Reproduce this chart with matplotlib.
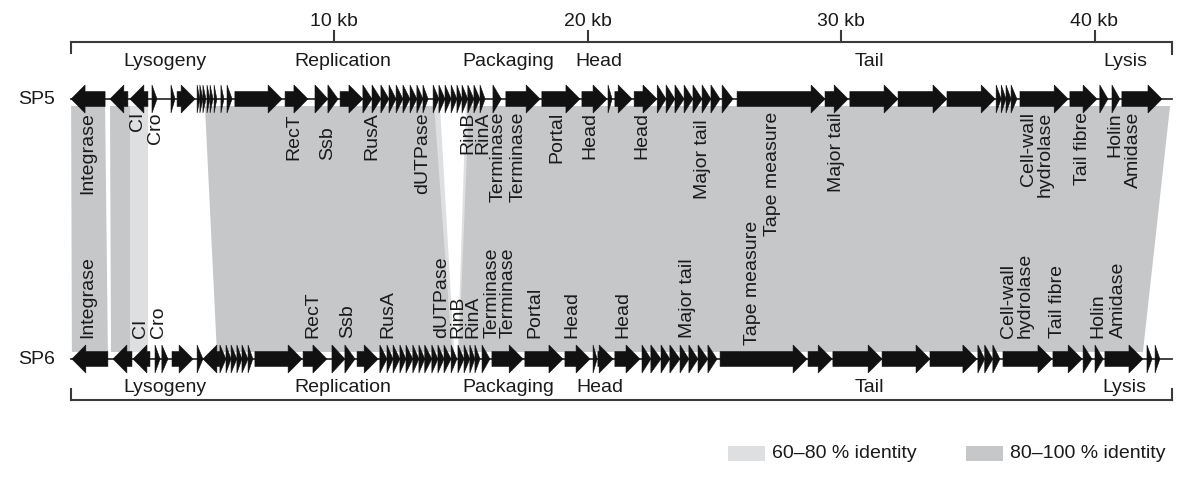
import matplotlib
matplotlib.use("Agg")
import matplotlib.pyplot as plt
from matplotlib.patches import Polygon

plt.rcParams['font.family'] = ['Liberation Sans', 'DejaVu Sans']

# ---------------- data (positions in kb) ----------------
sp5_genes = [
    (-0.37, 0.97, -1), (1.16, 1.87, -1), (1.95, 2.66, -1),
    (2.82, 3.02, 1), (3.57, 3.73, 1), (3.81, 4.52, 1),
    (4.60, 4.71, 1), (4.71, 4.83, 1), (4.83, 4.95, 1), (4.99, 5.11, 1),
    (5.11, 5.23, 1), (5.27, 5.38, 1), (5.54, 5.66, 1), (5.78, 5.98, 1),
    (6.09, 7.95, 1), (8.07, 8.97, 1),
    (9.25, 9.76, 1), (9.76, 10.16, 1), (10.24, 11.14, 1),
    (11.14, 11.50, 1), (11.50, 11.85, 1), (11.85, 12.17, 1), (12.17, 12.45, 1),
    (12.45, 12.72, 1), (12.72, 13.00, 1), (13.00, 13.27, 1), (13.27, 13.51, 1),
    (13.51, 13.71, 1),
    (13.91, 14.14, 1), (14.14, 14.38, 1), (14.38, 14.62, 1), (14.62, 14.85, 1),
    (14.85, 15.05, 1), (15.05, 15.28, 1), (15.28, 15.52, 1), (15.52, 15.76, 1),
    (15.76, 15.96, 1),
    (16.27, 16.60, 1), (16.78, 18.13, 1), (18.20, 19.70, 1), (19.78, 20.77, 1),
    (20.81, 20.97, 1), (21.08, 21.76, 1), (21.84, 22.74, 1),
    (22.75, 23.10, 1), (23.10, 23.45, 1), (23.45, 23.81, 1), (23.81, 24.16, 1),
    (24.16, 24.52, 1), (24.52, 24.87, 1), (24.87, 25.23, 1), (25.31, 25.74, 1),
    (25.90, 29.37, 1), (29.37, 30.28, 1), (30.35, 32.25, 1), (32.25, 34.18, 1),
    (34.18, 36.08, 1),
    (36.12, 36.32, 1), (36.32, 36.51, 1), (36.51, 36.71, 1), (36.71, 36.94, 1),
    (37.06, 38.96, 1), (39.03, 40.10, 1), (40.21, 40.53, 1), (40.69, 41.00, 1),
    (41.08, 42.66, 1),
]

sp6_genes = [
    (-0.34, 1.08, -1), (1.28, 2.03, -1), (2.07, 2.74, -1),
    (2.94, 3.14, 1), (3.21, 3.45, 1), (3.61, 4.44, 1), (4.60, 4.83, 1),
    (4.83, 5.50, -1),
    (5.50, 5.74, 1), (5.74, 5.94, 1), (5.94, 6.17, 1), (6.17, 6.37, 1),
    (6.37, 6.61, 1), (6.61, 6.80, 1),
    (6.88, 8.74, 1), (8.78, 9.72, 1),
    (9.92, 10.43, 1), (10.43, 10.83, 1), (10.91, 11.74, 1),
    (11.81, 12.09, 1), (12.09, 12.33, 1), (12.33, 12.60, 1), (12.60, 12.84, 1),
    (12.84, 13.11, 1), (13.11, 13.35, 1), (13.35, 13.58, 1), (13.58, 13.86, 1),
    (13.86, 14.10, 1), (14.10, 14.34, 1), (14.34, 14.62, 1), (14.62, 14.85, 1),
    (14.89, 15.13, 1), (15.13, 15.36, 1), (15.36, 15.56, 1), (15.56, 15.76, 1),
    (15.84, 16.15, 1), (16.23, 17.46, 1), (17.53, 19.03, 1), (19.11, 20.10, 1),
    (20.22, 20.38, 1), (20.41, 21.01, 1), (21.08, 22.07, 1),
    (22.15, 22.50, 1), (22.50, 22.90, 1), (22.90, 23.25, 1), (23.25, 23.65, 1),
    (23.65, 24.00, 1), (24.00, 24.36, 1), (24.36, 24.75, 1), (24.75, 25.11, 1),
    (25.23, 28.66, 1), (28.70, 29.65, 1), (29.68, 31.62, 1), (31.62, 33.51, 1),
    (33.51, 35.36, 1),
    (35.40, 35.67, 1), (35.67, 35.99, 1), (35.99, 36.27, 1),
    (36.39, 38.32, 1), (38.36, 39.51, 1), (39.55, 39.90, 1), (40.02, 40.34, 1),
    (40.41, 41.91, 1), (42.07, 42.27, 1), (42.39, 42.58, 1),
]

genome_start = -0.37
genome_end = 43.06

# identity blocks: (sp5_start, sp5_end, sp6_start, sp6_end, class)
blocks = [
    (-0.37, 0.97, -0.34, 1.08, "high"),
    (1.16, 1.95, 1.20, 1.95, "high"),
    (1.95, 2.66, 1.95, 2.66, "mid"),
    (4.91, 42.98, 5.38, 41.91, "high"),
    (13.95, 15.32, 14.66, 14.93, "mid"),
    (14.18, 15.20, 14.74, 14.88, "none"),
]

sp5_labels = ["Integrase", "CI", "Cro", "RecT", "Ssb", "RusA", "dUTPase", "RinB", "RinA",
              "Terminase", "Terminase", "Portal", "Head", "Head", "Major tail",
              "Tape measure", "Major tail", "Cell-wall\nhydrolase", "Tail fibre",
              "Holin", "Amidase"]
sp5_label_x = [0.30, 2.23, 2.94, 8.42, 9.76, 11.50, 13.51, 15.29, 15.88, 16.47, 17.26,
               18.80, 20.10, 22.15, 24.55, 27.28, 29.84, 37.73, 39.51, 40.81, 41.52]

sp6_labels = ["Integrase", "CI", "Cro", "RecT", "Ssb", "RusA", "dUTPase", "RinB", "RinA",
              "Terminase", "Terminase", "Portal", "Head", "Head", "Major tail",
              "Tape measure", "Cell-wall\nhydrolase", "Tail fibre", "Holin", "Amidase"]
sp6_label_x = [0.30, 2.35, 3.06, 9.17, 10.55, 12.13, 14.26, 14.89, 15.48, 16.23, 16.86,
               17.93, 19.39, 21.40, 23.93, 26.49, 36.94, 38.56, 40.14, 40.93]

region_names = ["Lysogeny", "Replication", "Packaging", "Head", "Tail", "Lysis"]
region_x_top = [3.33, 10.35, 16.86, 20.45, 31.10, 41.21]
region_x_bot = [3.33, 10.35, 16.86, 20.49, 31.10, 41.17]

kb_ticks = [10, 20, 30, 40]
legend_labels = ["60\u201380 % identity", "80\u2013100 % identity"]

# ---------------- styling ----------------
DARK = "#c6c7c9"
LIGHT = "#dedfe1"
TXT = "#1a1a1a"
FS = 14
Y5, Y6 = 99, 359
BH, HH, HL = 7.5, 14.0, 0.55

fig = plt.figure(figsize=(11.89, 4.87), dpi=100)
ax = fig.add_axes([0, 0, 1, 1])
ax.set_xlim(-80.5 / 25.35, (1189 - 80.5) / 25.35)
ax.set_ylim(487, 0)
ax.axis("off")

colors = {"high": DARK, "mid": LIGHT, "none": "white"}
for s5, e5, s6, e6, cls in blocks:
    ax.add_patch(Polygon([(s5, 106), (e5, 106), (e6, 352), (s6, 352)],
                         closed=True, facecolor=colors[cls], edgecolor="none", zorder=1))


def draw_gene(s, e, strand, y):
    L = e - s
    if strand < 0:
        s, e = e, s
    d = 1 if strand > 0 else -1
    if L <= HL * 1.05:
        pts = [(s, y - HH), (e, y), (s, y + HH)]
    else:
        b = e - d * HL
        pts = [(s, y - BH), (b, y - BH), (b, y - HH), (e, y), (b, y + HH), (b, y + BH), (s, y + BH)]
    ax.add_patch(Polygon(pts, closed=True, facecolor="#111111", edgecolor="#111111",
                         linewidth=0.4, zorder=4))


for y, genes in ((Y5, sp5_genes), (Y6, sp6_genes)):
    ax.plot([genome_start, genome_end], [y, y], color="#333333", lw=1.3, zorder=3)
    for s, e, st in genes:
        draw_gene(s, e, st, y)

for name, x in zip(sp5_labels, sp5_label_x):
    if name in ("RecT", "Ssb", "RusA"):
        ax.text(x, 160, name, rotation=90, ha="center", va="bottom", fontsize=FS, color=TXT, zorder=5)
        continue
    yt = 119 if name == "Major tail" and x < 26 else 112
    ax.text(x, yt, name, rotation=90, ha="center", va="top", fontsize=FS, color=TXT,
            multialignment="right", linespacing=0.95, zorder=5)
for name, x in zip(sp6_labels, sp6_label_x):
    yb = 345 if name == "Tape measure" else 338
    ax.text(x, yb, name, rotation=90, ha="center", va="bottom", fontsize=FS, color=TXT,
            multialignment="left", linespacing=0.95, zorder=5)

ax.text((37 - 80.5) / 25.35, Y5, "SP5", ha="center", va="center", fontsize=FS, color=TXT)
ax.text((37 - 80.5) / 25.35, Y6, "SP6", ha="center", va="center", fontsize=FS, color=TXT)

# brackets and scale
lc = "#3a3a3a"
ax.plot([genome_start, genome_end], [42, 42], color=lc, lw=1.5, zorder=3)
ax.plot([genome_start, genome_start], [42, 53], color=lc, lw=1.5)
ax.plot([genome_end, genome_end], [42, 54], color=lc, lw=1.5)
for t in kb_ticks:
    ax.plot([t, t], [42, 31], color=lc, lw=1.5)
    ax.text(t, 22, f"{t} kb", ha="center", va="center", fontsize=FS, color=TXT)
ax.plot([genome_start, genome_end], [400, 400], color=lc, lw=1.5)
ax.plot([genome_start, genome_start], [400, 389], color=lc, lw=1.5)
ax.plot([genome_end, genome_end], [400, 389], color=lc, lw=1.5)

for name, x in zip(region_names, region_x_top):
    ax.text(x, 62, name, ha="center", va="center", fontsize=FS, color=TXT)
for name, x in zip(region_names, region_x_bot):
    ax.text(x, 387, name, ha="center", va="center", fontsize=FS, color=TXT)

# legend
for (bx0, bx1), col, lab in zip([(728, 765), (966, 1003)], [LIGHT, DARK], legend_labels):
    x0 = (bx0 - 80.5) / 25.35
    x1 = (bx1 - 80.5) / 25.35
    ax.add_patch(Polygon([(x0, 446), (x1, 446), (x1, 461), (x0, 461)], closed=True,
                         facecolor=col, edgecolor="none"))
    ax.text(x1 + 0.28, 453, lab, ha="left", va="center", fontsize=FS, color=TXT)

fig.savefig("out.png", dpi=100)
